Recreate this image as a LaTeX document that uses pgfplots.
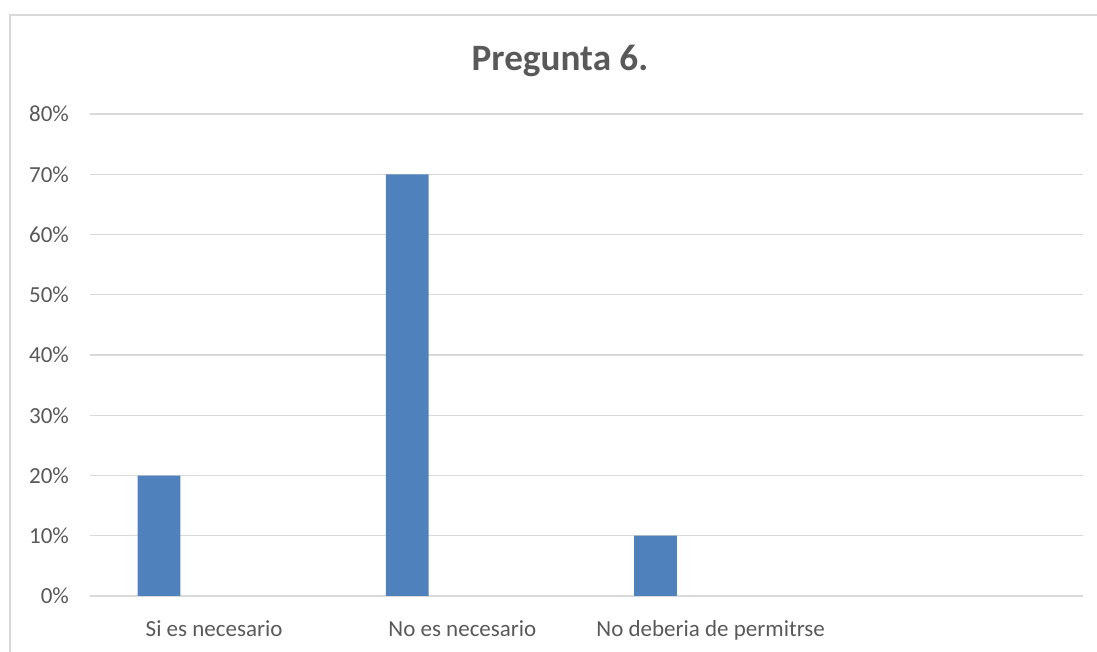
\documentclass[border=0pt]{standalone}
\usepackage{fontspec}
\setmainfont{Carlito}
\usepackage{pgfplots}
\pgfplotsset{compat=1.18}
\definecolor{barblue}{HTML}{4F81BD}
\definecolor{gridgray}{HTML}{D9D9D9}
\definecolor{txtgray}{HTML}{595959}
\begin{document}
\begin{tikzpicture}
  \begin{axis}[
      at={(0,0)}, anchor=south west,
      scale only axis,
      width=496.5pt, height=241pt,
      ybar,
      bar width=0.173,
      bar shift=-0.222,
      xmin=-0.5, xmax=3.5,
      ymin=0, ymax=80,
      xtick={0,1,2},
      xticklabels={Si es necesario, No es necesario, No deberia de permitrse},
      ytick={0,10,...,80},
      yticklabel={\pgfmathprintnumber{\tick}\%},
      /pgf/number format/assume math mode=true,
      ymajorgrids,
      grid style={gridgray, line width=0.7pt},
      axis line style={draw=none},
      major tick style={draw=none},
      tick label style={font=\fontsize{11.5}{13}\selectfont, text=txtgray},
      yticklabel style={xshift=-7pt},
      xticklabel style={yshift=-4.5pt},
      title={Pregunta 6.},
      title style={font=\fontsize{18.6}{22}\selectfont\bfseries, text=txtgray,
        at={(axis description cs:0.4733,1.0664)}, anchor=base},
    ]
    \addplot[fill=barblue, draw=none] coordinates {
      (0,20)
      (1,70)
      (2,10)
    };
  \end{axis}
  \draw[gridgray, line width=0.8pt] (-40pt,-40pt) -- (-40pt,290.5pt) -- (520pt,290.5pt);
  \pgfresetboundingbox
  \useasboundingbox (-45pt,-28pt) rectangle (503.5pt,298pt);
\end{tikzpicture}
\end{document}
